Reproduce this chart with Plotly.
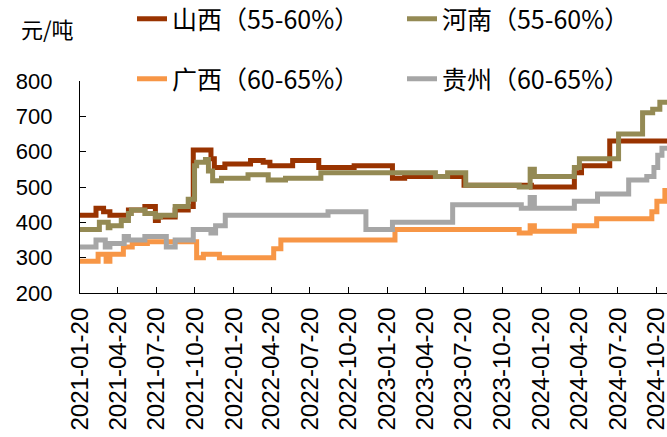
import plotly.graph_objects as go

# ---- data ----
sx_dates = ["2021-01-20", "2021-02-27", "2021-03-17", "2021-04-01", "2021-05-15", "2021-06-23",
            "2021-07-18", "2021-07-25", "2021-09-03", "2021-10-04", "2021-10-16", "2021-11-27",
            "2021-12-05", "2021-12-30", "2022-03-01", "2022-03-31", "2022-04-16", "2022-06-09",
            "2022-08-10", "2022-11-02", "2023-02-01", "2023-03-02", "2023-07-21", "2023-12-28",
            "2024-04-08", "2024-04-25", "2024-07-01", "2024-11-14"]
sx_vals = [420, 440, 430, 420, 435, 445, 405, 415, 435, 445, 605, 580,
           555, 565, 575, 570, 560, 575, 555, 560, 525, 530, 505, 500,
           540, 560, 630, 630]

hn_dates = ["2021-01-20", "2021-03-07", "2021-03-28", "2021-04-01", "2021-04-28", "2021-05-15",
            "2021-05-22", "2021-06-23", "2021-07-18", "2021-07-30", "2021-09-03", "2021-10-04",
            "2021-10-19", "2021-10-24", "2021-11-14", "2021-11-21", "2021-12-01", "2021-12-22",
            "2022-02-23", "2022-04-12", "2022-05-23", "2022-08-15", "2023-05-14", "2023-06-12",
            "2023-07-25", "2023-11-29", "2023-12-25", "2024-01-04", "2024-04-08", "2024-04-20",
            "2024-07-22", "2024-09-17", "2024-10-11", "2024-10-28", "2024-11-14"]
hn_vals = [380, 400, 385, 390, 405, 425, 435, 425, 415, 420, 445, 465,
           560, 570, 578, 545, 518, 525, 535, 520, 525, 540, 530, 540,
           505, 500, 550, 530, 555, 580, 650, 710, 720, 740, 740]

gx_dates = ["2021-01-20", "2021-03-04", "2021-03-23", "2021-04-01", "2021-05-03", "2021-05-24",
            "2021-06-29", "2021-10-24", "2021-11-09", "2021-12-17", "2022-04-25", "2022-05-12",
            "2023-02-07", "2023-11-29", "2023-12-25", "2024-01-04", "2024-04-08", "2024-05-31",
            "2024-10-09", "2024-10-21", "2024-11-09", "2024-11-14"]
gx_vals = [290, 310, 290, 310, 330, 340, 345, 300, 310, 300, 325, 350,
           380, 370, 390, 375, 390, 410, 430, 460, 490, 490]

gz_dates = ["2021-01-20", "2021-02-27", "2021-03-21", "2021-04-01", "2021-05-05", "2021-05-15",
            "2021-06-23", "2021-08-13", "2021-09-03", "2021-10-16", "2021-11-27", "2021-12-08",
            "2021-12-31", "2022-09-01", "2022-11-30", "2023-02-01", "2023-06-24", "2023-12-04",
            "2023-12-25", "2024-01-04", "2024-04-08", "2024-06-02", "2024-08-15", "2024-09-27",
            "2024-10-14", "2024-10-23", "2024-11-02", "2024-11-14"]
gz_vals = [330, 350, 330, 340, 360, 350, 360, 330, 350, 380, 370, 390,
           420, 430, 380, 400, 450, 440, 470, 440, 460, 480, 520, 530,
           555, 590, 610, 610]

series_names = ["山西（55-60%）", "河南（55-60%）", "广西（60-65%）", "贵州（60-65%）"]
colors = ["#993300", "#948A54", "#F79646", "#A6A6A6"]

tick_dates = ["2021-01-20", "2021-04-20", "2021-07-20", "2021-10-20", "2022-01-20", "2022-04-20",
              "2022-07-20", "2022-10-20", "2023-01-20", "2023-04-20", "2023-07-20", "2023-10-20",
              "2024-01-20", "2024-04-20", "2024-07-20", "2024-10-20"]
y_ticks = [200, 300, 400, 500, 600, 700, 800]

fig = go.Figure()
all_series = [(sx_dates, sx_vals, "legend"), (hn_dates, hn_vals, "legend"),
              (gx_dates, gx_vals, "legend2"), (gz_dates, gz_vals, "legend2")]
for (d, v, lg), name, c in zip(all_series, series_names, colors):
    fig.add_trace(go.Scatter(x=d, y=v, mode="lines", name=name, legend=lg,
                             line=dict(color=c, width=5, shape="hv")))

legend_font = dict(family="Noto Sans CJK SC", size=25, color="#000000")
common_legend = dict(orientation="h", xref="container", yref="container",
                     xanchor="left", yanchor="middle", font=legend_font,
                     entrywidth=225, entrywidthmode="pixels",
                     bgcolor="rgba(0,0,0,0)", borderwidth=0)
fig.update_layout(
    width=667, height=437,
    margin=dict(l=80, r=0, t=81, b=144, autoexpand=False),
    paper_bgcolor="white", plot_bgcolor="white",
    showlegend=True,
    legend=dict(common_legend, x=0.1979, y=0.9565),
    legend2=dict(common_legend, x=0.1979, y=0.8192),
    xaxis=dict(type="date", range=["2021-01-20", "2024-11-14"], automargin=False,
               tickvals=tick_dates, ticktext=tick_dates, tickangle=-90,
               tickfont=dict(family="Liberation Sans, Arial", size=24, color="#000000"),
               ticklabelstandoff=4, ticklabeloverflow="allow",
               showline=True, linecolor="#000000", linewidth=1.3,
               ticks="inside", ticklen=6, tickcolor="#000000", tickwidth=1.3,
               showgrid=False, zeroline=False),
    yaxis=dict(range=[200, 800], tickvals=y_ticks, automargin=False,
               tickfont=dict(family="Liberation Sans, Arial", size=22, color="#000000"),
               showline=True, linecolor="#000000", linewidth=1.3,
               ticks="inside", ticklen=6, tickcolor="#000000", tickwidth=1.3,
               ticklabelstandoff=22,
               showgrid=False, zeroline=False),
    annotations=[dict(text="元/吨", xref="paper", yref="paper", x=-0.1039, y=1.25,
                      xanchor="left", yanchor="middle", showarrow=False,
                      font=dict(family="Noto Sans CJK SC", size=22, color="#000000"))],
)

# remove the browser's default page margin so the figure fills the window exactly
fig.write_html("out.html", config={"displayModeBar": False},
               post_script="document.body.style.margin='0';document.body.style.overflow='hidden';")
